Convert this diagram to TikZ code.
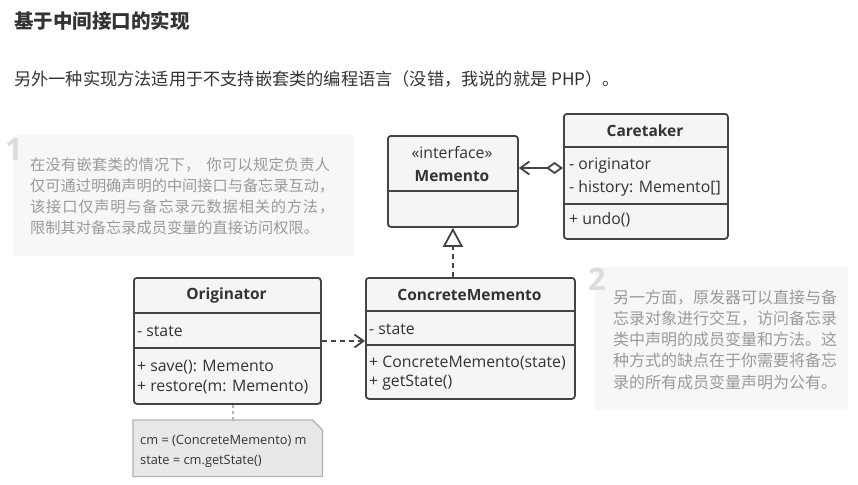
\documentclass[tikz,border=0pt]{standalone}
\usepackage{fontspec}
\newfontfamily\cjk{Noto Sans CJK SC}
\newfontfamily\uml{Open Sans}
\usetikzlibrary{arrows.meta}
\definecolor{ink}{HTML}{333333}
\definecolor{boxfill}{HTML}{F5F5F5}
\definecolor{boxline}{HTML}{444444}
\definecolor{notebg}{HTML}{F7F7F7}
\definecolor{notetext}{HTML}{9A9A9A}
\definecolor{numcol}{HTML}{DCDCDC}
\definecolor{codefill}{HTML}{E8E8E8}
\definecolor{codeline}{HTML}{B3B3B3}
\makeatletter
\newcommand\jline[2]{\makebox[#1][s]{\jl@#2\@nil}}
\def\jl@#1#2\@nil{#1\if\relax\detokenize{#2}\relax\else\hfill\jl@#2\@nil\fi}
\makeatother
\begin{document}
\begin{tikzpicture}[x=1pt,y=-1pt,
  umlbox/.style={draw=boxline, fill=boxfill, line width=1.8pt, rounded corners=3pt, anchor=north west, inner sep=0pt},
  divider/.style={draw=boxline, line width=1.8pt},
  umltxt/.style={font=\uml\fontsize{15.8}{19}\selectfont, text=ink, inner sep=0pt, anchor=west},
  umltitle/.style={font=\uml\bfseries\fontsize{15.5}{19}\selectfont, text=ink, inner sep=0pt},
  codetxt/.style={font=\uml\fontsize{12.8}{16}\selectfont, text=ink, inner sep=0pt, anchor=west},
  notetxtA/.style={font=\cjk\fontsize{15.2}{18}\selectfont, text=notetext, inner sep=0pt, anchor=west},
  notetxtB/.style={font=\cjk\fontsize{16}{18}\selectfont, text=notetext, inner sep=0pt, anchor=west},
  notenum/.style={font=\uml\bfseries\fontsize{31}{31}\selectfont, text=numcol, inner sep=0pt, anchor=base west},
  notebox/.style={fill=notebg, draw=none, anchor=north west, inner sep=0pt},
  conn/.style={draw=boxline, line width=1.8pt},
  dashconn/.style={conn, dash pattern=on 5pt off 4pt},
  barb/.style={-{Straight Barb[length=9pt,width=13pt]}},
]
\useasboundingbox[fill=white] (0,0) rectangle (858,484);

% heading texts
\node[font=\cjk\bfseries\fontsize{19.5}{22}\selectfont, text=ink, anchor=west, inner sep=0pt] (title) at (14,21) {基于中间接口的实现};
\node[font=\cjk\fontsize{17.2}{20}\selectfont, text=ink, anchor=west, inner sep=0pt] (intro) at (14,79) {另外一种实现方法适用于不支持嵌套类的编程语言（没错，我说的就是 PHP）。};

% note 1
\node[notebox, minimum width=341pt, minimum height=121pt] (note1) at (13,135) {};
\node[notenum] (num1) at (5,160) {1};
\node[notetxtA] (n1l1) at (30,165) {\jline{300pt}{在没有嵌套类的情况下{，\hspace{0.4em}}你可以规定负责人}};
\node[notetxtA] (n1l2) at (30,186) {\jline{304pt}{仅可通过明确声明的中间接口与备忘录互动，}};
\node[notetxtA] (n1l3) at (30,207) {\jline{304pt}{该接口仅声明与备忘录元数据相关的方法，}};
\node[notetxtA] (n1l4) at (30,228) {限制其对备忘录成员变量的直接访问权限。};

% note 2
\node[notebox, minimum width=253pt, minimum height=143pt] (note2) at (595,267) {};
\node[notenum] (num2) at (588,290) {2};
\node[notetxtB] (n2l1) at (613,297.2) {\jline{224pt}{另一方面，原发器可以直接与备}};
\node[notetxtB] (n2l2) at (613,318.4) {\jline{224pt}{忘录对象进行交互，访问备忘录}};
\node[notetxtB] (n2l3) at (613,339.6) {\jline{224pt}{类中声明的成员变量和方法。这}};
\node[notetxtB] (n2l4) at (613,360.8) {\jline{224pt}{种方式的缺点在于你需要将备忘}};
\node[notetxtB] (n2l5) at (613,382) {录的所有成员变量声明为公有。};

% Memento
\node[umlbox, minimum width=130pt, minimum height=91pt] (memento) at (387,135) {};
\draw[divider] (memento.west |- 0,191) -- (memento.east |- 0,191);
\node[umltxt, anchor=center] (mstereo) at (452,153) {«interface»};
\node[umltitle] (mname) at (452,176) {Memento};

% Caretaker
\node[umlbox, minimum width=164pt, minimum height=125pt] (caretaker) at (563,113) {};
\draw[divider] (caretaker.west |- 0,147) -- (caretaker.east |- 0,147);
\draw[divider] (caretaker.west |- 0,204) -- (caretaker.east |- 0,204);
\node[umltitle] (ctname) at (645,131) {Caretaker};
\node[umltxt] (ct1) at (569,166) {- originator};
\node[umltxt] (ct2) at (569,188) {- history: Memento[]};
\node[umltxt] (ct3) at (569,220) {+ undo()};

% Originator
\node[umlbox, minimum width=187pt, minimum height=126pt] (orig) at (133,277) {};
\draw[divider] (orig.west |- 0,313) -- (orig.east |- 0,313);
\draw[divider] (orig.west |- 0,348) -- (orig.east |- 0,348);
\node[umltitle] (oname) at (226.5,295) {Originator};
\node[umltxt] (o1) at (137,331) {- state};
\node[umltxt] (o2) at (137,367) {+ save(): Memento};
\node[umltxt] (o3) at (137,387) {+ restore(m: Memento)};

% ConcreteMemento
\node[umlbox, minimum width=209pt, minimum height=121pt] (cmem) at (365,277) {};
\draw[divider] (cmem.west |- 0,311) -- (cmem.east |- 0,311);
\draw[divider] (cmem.west |- 0,345) -- (cmem.east |- 0,345);
\node[umltitle] (cname) at (469.5,295) {ConcreteMemento};
\node[umltxt] (c1) at (369,329) {- state};
\node[umltxt] (c2) at (369,363) {+ ConcreteMemento(state)};
\node[umltxt] (c3) at (369,383) {+ getState()};

% code note
\node[anchor=north west, minimum width=189pt, minimum height=56pt, inner sep=0pt] (code) at (133,420) {};
\draw[draw=codeline, fill=codefill, line width=1.3pt] (code.north west) -- ([xshift=-10pt]code.north east) -- ([yshift=-10pt]code.north east) -- (code.south east) -- (code.south west) -- cycle;
\node[codetxt] (k1) at (140,441) {cm = (ConcreteMemento) m};
\node[codetxt] (k2) at (140,461) {state = cm.getState()};

% connectors
\coordinate (ya) at (0,168);
\draw[conn, {Diamond[length=17pt,width=12pt,fill=white]}-{Straight Barb[length=9pt,width=13pt]}] (caretaker.west |- ya) -- (memento.east |- ya);
\draw[dashconn, -{Triangle[open,length=19pt,width=20pt,fill=white]}] (cmem.north -| memento.south) -- (memento.south);
\coordinate (yb) at (0,341);
\draw[dashconn, barb] (orig.east |- yb) -- (cmem.west |- yb);
\coordinate (xc) at (233,0);
\draw[draw=codeline, line width=1.3pt, dash pattern=on 3pt off 3pt] (orig.south -| xc) -- (code.north -| xc);
\end{tikzpicture}
\end{document}
